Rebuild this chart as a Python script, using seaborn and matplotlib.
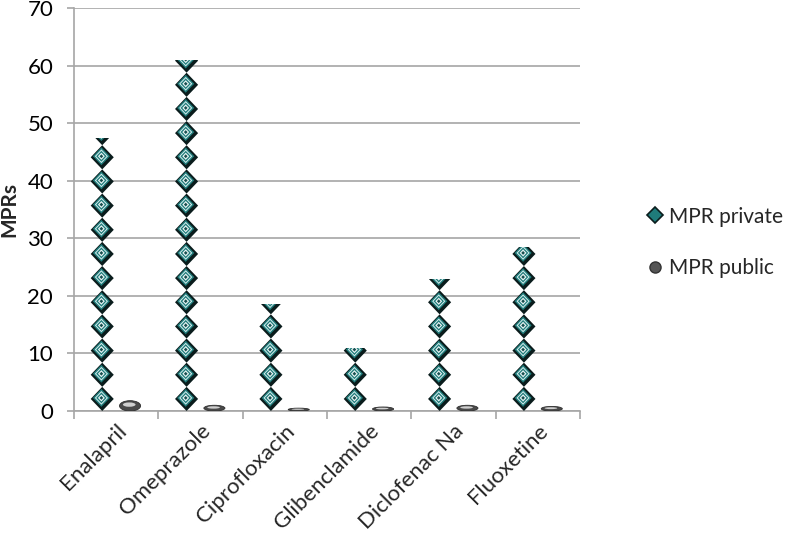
import math
import matplotlib
matplotlib.use('Agg')
import matplotlib.pyplot as plt
import pandas as pd
import seaborn as sns
from matplotlib.patches import Polygon, Ellipse
from matplotlib.lines import Line2D

# Data
drugs = ['Enalapril', 'Omeprazole', 'Ciprofloxacin', 'Glibenclamide', 'Diclofenac Na', 'Fluoxetine']
mpr_private = [47.5, 61.0, 18.6, 10.9, 22.9, 28.5]
mpr_public = [1.8, 1.0, 0.5, 0.7, 1.0, 0.8]
series = ['MPR private', 'MPR public']

df = pd.DataFrame({
    'drug': drugs * 2,
    'series': [series[0]] * len(drugs) + [series[1]] * len(drugs),
    'value': mpr_private + mpr_public,
})

sns.set_style('white')
plt.rcParams['font.family'] = ['Lato', 'DejaVu Sans']

TEAL = '#1f7b7a'
DARK = '#0a1c1c'
GRID = '#a6a6a6'
UNIT = 4.2  # height of one diamond picture, in value units

fig = plt.figure(figsize=(7.87, 5.37), dpi=100)
ax = fig.add_axes([0.094, 0.2346, 0.643, 0.750])

sns.barplot(data=df, x='drug', y='value', hue='series', order=drugs,
            hue_order=series, width=0.66, ax=ax, legend=False,
            palette=['white', 'white'], edgecolor='none', linewidth=0)

ax.set_ylim(0, 70)
ax.set_xlim(-0.5, len(drugs) - 0.5)

# Stack of diamond pictures clipped to each private bar
layers = [(0.74, TEAL), (0.57, '#d3ecec'), (0.45, TEAL), (0.30, '#e8f4f4'), (0.16, '#174f4f')]
hw = 0.137
for bar in ax.containers[0]:
    bar.set_facecolor('none')
    xc = bar.get_x() + bar.get_width() / 2
    h = bar.get_height()
    n = math.ceil(h / UNIT)
    for k in range(n):
        yc = UNIT * (k + 0.5)
        outer = Polygon([(xc, yc - UNIT / 2), (xc + hw, yc), (xc, yc + UNIT / 2), (xc - hw, yc)],
                        closed=True, facecolor=DARK, edgecolor='none', zorder=3)
        ax.add_patch(outer)
        outer.set_clip_path(bar)
        for s, col in layers:
            xx, yy = xc - 0.01, yc + 0.18
            pts = [(xx, yy - UNIT / 2 * s), (xx + hw * s, yy),
                   (xx, yy + UNIT / 2 * s), (xx - hw * s, yy)]
            p = Polygon(pts, closed=True, facecolor=col, edgecolor='none', zorder=3)
            ax.add_patch(p)
            p.set_clip_path(bar)

# Grey ellipsoid pictures for the public bars
for bar in ax.containers[1]:
    bar.set_facecolor('none')
    xc = bar.get_x() + bar.get_width() / 2
    h = bar.get_height()
    ax.add_patch(Ellipse((xc, h / 2), 0.25, h, facecolor='#4a4a4a',
                         edgecolor='#2e2e2e', linewidth=0.6, zorder=3))
    ax.add_patch(Ellipse((xc - 0.01, h * 0.62), 0.15, h * 0.42,
                         facecolor='#cfcfcf', edgecolor='none', zorder=4))

# Axes styling
ax.set_yticks(range(0, 71, 10))
ax.yaxis.grid(True, color=GRID, linewidth=1.2)
ax.set_axisbelow(True)
for side in ['top', 'right']:
    ax.spines[side].set_visible(False)
for side in ['left', 'bottom']:
    ax.spines[side].set_color(GRID)
    ax.spines[side].set_linewidth(1.2)

ax.tick_params(axis='y', which='major', left=True, length=5, width=1.2,
               color=GRID, pad=10, labelsize=16, labelcolor='black')
ax.set_xticks(range(len(drugs)))
ax.set_xticks([i - 0.5 for i in range(len(drugs) + 1)], minor=True)
ax.tick_params(axis='x', which='major', length=0, pad=7, labelsize=16)
ax.tick_params(axis='x', which='minor', bottom=True, length=6, width=1.2, color=GRID)
ax.set_xticklabels(drugs, rotation=45, ha='right', rotation_mode='anchor')

ax.set_xlabel('')
ax.set_ylabel('MPRs', fontsize=15, fontweight='bold', labelpad=6)

# Legend
handles = [
    Line2D([], [], linestyle='none', marker='D', markersize=8,
           markerfacecolor=TEAL, markeredgecolor=DARK, markeredgewidth=1.2),
    Line2D([], [], linestyle='none', marker='o', markersize=8,
           markerfacecolor='#555555', markeredgecolor='#333333'),
]
fig.legend(handles, series, loc='center left', bbox_to_anchor=(0.81, 0.549),
           frameon=False, fontsize=15, handlelength=0.7, handletextpad=0.3,
           labelspacing=1.5, borderpad=0)

fig.savefig('out.png', dpi=100)
